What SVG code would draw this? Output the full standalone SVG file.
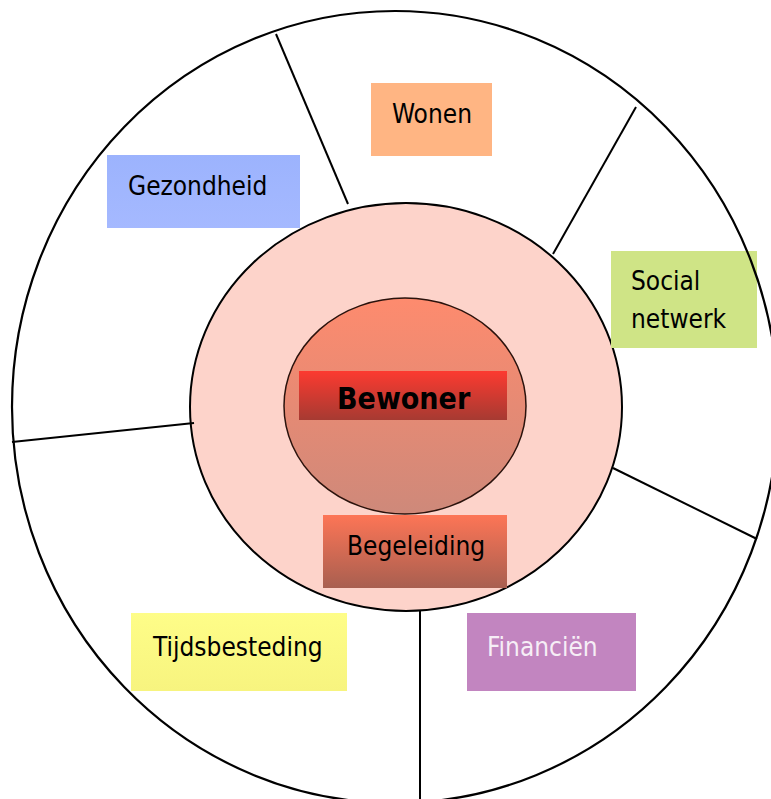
<svg xmlns="http://www.w3.org/2000/svg" width="771" height="799" viewBox="0 0 771 799">
<defs>
<linearGradient id="gCore" x1="0" y1="0" x2="0" y2="1">
<stop offset="0" stop-color="#fe8b6e"/>
<stop offset="1" stop-color="#ce897a"/>
</linearGradient>
<linearGradient id="gBew" x1="0" y1="0" x2="0" y2="1">
<stop offset="0" stop-color="#fc3a30"/>
<stop offset="1" stop-color="#a63a32"/>
</linearGradient>
<linearGradient id="gBeg" x1="0" y1="0" x2="0" y2="1">
<stop offset="0" stop-color="#fd7556"/>
<stop offset="1" stop-color="#a85f50"/>
</linearGradient>
<linearGradient id="gBlue" x1="0" y1="0" x2="0" y2="1">
<stop offset="0" stop-color="#9cb3fd"/>
<stop offset="1" stop-color="#a5b9ff"/>
</linearGradient>
<linearGradient id="gYel" x1="0" y1="0" x2="0" y2="1">
<stop offset="0" stop-color="#fefd88"/>
<stop offset="1" stop-color="#f7f47f"/>
</linearGradient>
</defs>
<style>
.t{font-family:"DejaVu Sans Condensed","DejaVu Sans",sans-serif;font-stretch:condensed;font-size:26px;fill:#000}
.b{font-weight:bold;font-size:30px}
.w{fill:#f6eef6}
.ln{stroke:#000;stroke-width:2;fill:none}
</style>
<g id="ring">
<ellipse cx="406" cy="407" rx="216" ry="204" fill="#fdd3ca" stroke="#000" stroke-width="2"/>
</g>
<g id="connectors">
<line class="ln" x1="276" y1="34" x2="348" y2="204"/>
<line class="ln" x1="636" y1="107" x2="553" y2="254"/>
<line class="ln" x1="613" y1="468" x2="757" y2="539"/>
<line class="ln" x1="420" y1="611" x2="420" y2="799"/>
<line class="ln" x1="194" y1="423" x2="12" y2="442"/>
</g>
<g id="core">
<ellipse cx="405" cy="406" rx="121" ry="108" fill="url(#gCore)" stroke="#2a120c" stroke-width="1.5"/>
</g>
<g id="bewoner">
<rect x="299" y="371" width="208" height="49" fill="url(#gBew)"/>
<text class="t b" x="337" y="409">Bewoner</text>
</g>
<g id="begeleiding">
<rect x="323" y="515" width="184" height="73" fill="url(#gBeg)"/>
<text class="t" x="347" y="555">Begeleiding</text>
</g>
<g id="wonen">
<rect x="371" y="83" width="121" height="73" fill="#ffb583"/>
<text class="t" x="392" y="123">Wonen</text>
</g>
<g id="gezondheid">
<rect x="107" y="155" width="193" height="73" fill="url(#gBlue)"/>
<text class="t" x="128" y="195">Gezondheid</text>
</g>
<g id="social">
<rect x="611" y="251" width="146" height="97" fill="#cfe486"/>
<text class="t" x="631" y="290">Social</text>
<text class="t" x="631" y="328">netwerk</text>
</g>
<g id="tijdsbesteding">
<rect x="131" y="613" width="216" height="78" fill="url(#gYel)"/>
<text class="t" x="153" y="656">Tijdsbesteding</text>
</g>
<g id="financien">
<rect x="467" y="613" width="169" height="78" fill="#c285c0"/>
<text class="t w" x="487" y="656">Financiën</text>
</g>
<g id="outer">
<ellipse cx="395" cy="407" rx="383" ry="396" fill="none" stroke="#000" stroke-width="2.2"/>
</g>
</svg>
